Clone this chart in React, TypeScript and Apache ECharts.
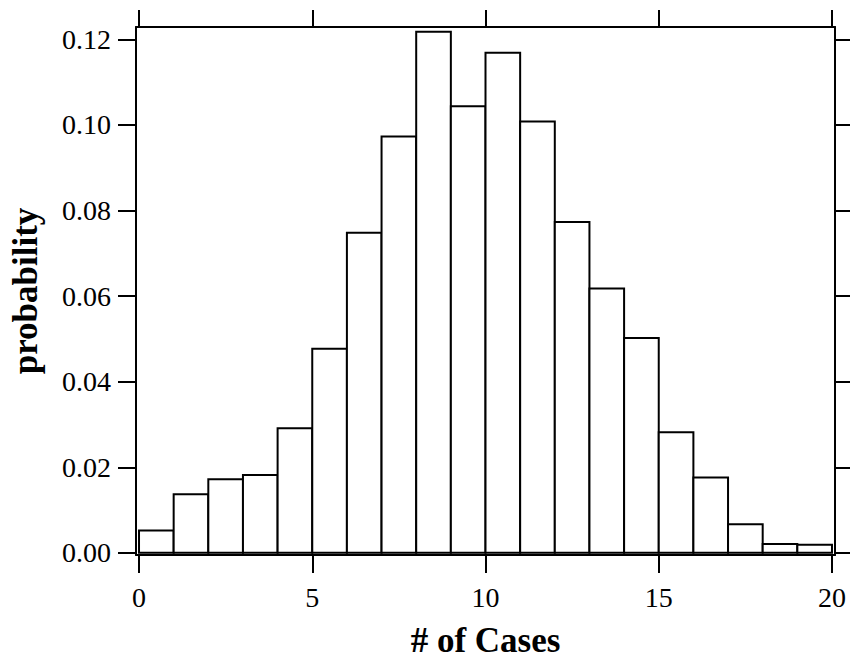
import React, { useEffect, useRef } from "react";
import * as echarts from "echarts";

const binStarts = [0, 1, 2, 3, 4, 5, 6, 7, 8, 9, 10, 11, 12, 13, 14, 15, 16, 17, 18, 19];
const binEnds = [1, 2, 3, 4, 5, 6, 7, 8, 9, 10, 11, 12, 13, 14, 15, 16, 17, 18, 19, 20];
const probabilities = [
  0.0052, 0.0137, 0.0172, 0.0182, 0.0291, 0.0477, 0.0748, 0.0973, 0.1218, 0.1044,
  0.1169, 0.1008, 0.0773, 0.0618, 0.0502, 0.0282, 0.0176, 0.0067, 0.0021, 0.0019,
];
const xTicks = [0, 5, 10, 15, 20];
const yTicks = [0, 0.02, 0.04, 0.06, 0.08, 0.1, 0.12];

const FONT = "Liberation Serif";

export default function App() {
  const ref = useRef<HTMLDivElement>(null);
  useEffect(() => {
    if (!ref.current) return;
    const chart = echarts.init(ref.current, null, { renderer: "svg" });
    const lineStyle = { color: "#000", width: 2 };
    const baseX = {
      type: "value",
      min: -0.087,
      max: 20.087,
      splitLine: { show: false },
      axisLine: { show: true, onZero: false, lineStyle },
    };
    const baseY = {
      type: "value",
      min: -0.0005,
      max: 0.1229,
      splitLine: { show: false },
      axisLine: { show: true, onZero: false, lineStyle },
    };
    chart.setOption({
      animation: false,
      backgroundColor: "#fff",
      grid: { left: 136, right: 15, top: 27, bottom: 105, containLabel: false },
      xAxis: [
        {
          ...baseX,
          position: "bottom",
          name: "# of Cases",
          nameLocation: "middle",
          nameGap: 68,
          nameTextStyle: { fontFamily: FONT, fontSize: 35, fontWeight: "bold", color: "#000" },
          axisTick: { show: true, inside: false, length: 18, lineStyle, customValues: xTicks },
          axisLabel: {
            show: true,
            margin: 28,
            fontFamily: FONT,
            fontSize: 28,
            color: "#000",
            customValues: xTicks,
          },
        },
        {
          ...baseX,
          position: "top",
          axisTick: { show: true, inside: false, length: 17, lineStyle, customValues: xTicks },
          axisLabel: { show: false },
        },
      ],
      yAxis: [
        {
          ...baseY,
          position: "left",
          name: "probability",
          nameLocation: "middle",
          nameGap: 93,
          nameRotate: 90,
          nameTextStyle: { fontFamily: FONT, fontSize: 35, fontWeight: "bold", color: "#000" },
          axisTick: { show: true, inside: false, length: 18, lineStyle, customValues: yTicks },
          axisLabel: {
            show: true,
            margin: 25,
            fontFamily: FONT,
            fontSize: 28,
            color: "#000",
            customValues: yTicks,
            formatter: (v: number) => v.toFixed(2),
          },
        },
        {
          ...baseY,
          position: "right",
          axisTick: { show: true, inside: false, length: 16, lineStyle, customValues: yTicks },
          axisLabel: { show: false },
        },
      ],
      series: [
        {
          type: "custom",
          xAxisIndex: 0,
          yAxisIndex: 0,
          data: probabilities.map((p, i) => [binStarts[i], binEnds[i], p]),
          renderItem: (params: any, api: any) => {
            const s = api.value(0);
            const e = api.value(1);
            const v = api.value(2);
            const p0 = api.coord([s, v]);
            const p1 = api.coord([e, 0]);
            return {
              type: "rect",
              shape: { x: p0[0], y: p0[1], width: p1[0] - p0[0], height: p1[1] - p0[1] },
              style: { fill: "#fff", stroke: "#000", lineWidth: 2 },
            };
          },
        },
      ],
    });
    return () => chart.dispose();
  }, []);
  return <div ref={ref} style={{ width: 850, height: 663, position: "absolute", left: 0, top: 0 }} />;
}
